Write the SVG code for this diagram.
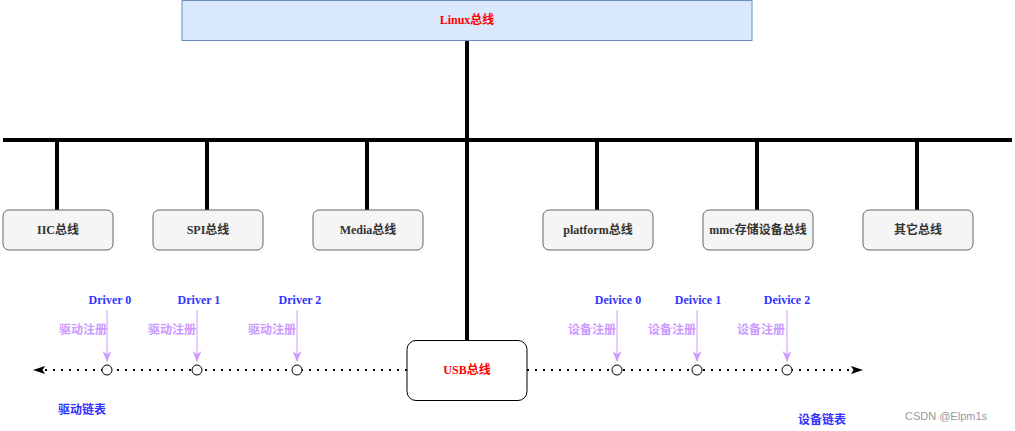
<svg xmlns="http://www.w3.org/2000/svg" width="1015" height="431" viewBox="0 0 1015 431">
<defs>
<style>
.t{font-family:"Liberation Serif","Noto Sans CJK SC",serif;font-size:12px;font-weight:bold;text-anchor:middle;dominant-baseline:central}
.box{fill:#f5f5f5;stroke:#666666;stroke-width:1}
.bus{stroke:#000;stroke-width:4;fill:none}
.dot{stroke:#000;stroke-width:2;stroke-dasharray:2 6;fill:none}
.reg{stroke:#CC99FF;stroke-width:1;fill:none}
.c{fill:#fff;stroke:#000;stroke-width:1}
.blue{fill:#3333FF}
.pur{fill:#CC99FF}
</style>
<marker id="ah" viewBox="0 0 12 10" refX="12" refY="5" markerWidth="12" markerHeight="10" markerUnits="userSpaceOnUse" orient="auto">
<path d="M0,1 L12,5 L0,9 L2.5,5 Z" fill="#000"/>
</marker>
<marker id="ap" viewBox="0 0 10 10" refX="9" refY="5" markerWidth="11" markerHeight="11" markerUnits="userSpaceOnUse" orient="auto">
<path d="M0,1 L10,5 L0,9 L3,5 Z" fill="#CC99FF"/>
</marker>
</defs>
<rect width="1015" height="431" fill="#fff"/>
<g id="connectors">
<line class="bus" x1="467" y1="40" x2="467" y2="340"/>
<line class="bus" x1="3" y1="140" x2="1012" y2="140"/>
<line class="bus" x1="57" y1="140" x2="57" y2="210"/>
<line class="bus" x1="207" y1="140" x2="207" y2="210"/>
<line class="bus" x1="367" y1="140" x2="367" y2="210"/>
<line class="bus" x1="597" y1="140" x2="597" y2="210"/>
<line class="bus" x1="757" y1="140" x2="757" y2="210"/>
<line class="bus" x1="917" y1="140" x2="917" y2="210"/>
<line class="dot" x1="407" y1="370" x2="33" y2="370" marker-end="url(#ah)"/>
<line class="dot" x1="527" y1="370" x2="863" y2="370" marker-end="url(#ah)"/>
<line class="reg" x1="107" y1="310" x2="107" y2="361" marker-end="url(#ap)"/>
<line class="reg" x1="197" y1="310" x2="197" y2="361" marker-end="url(#ap)"/>
<line class="reg" x1="297" y1="310" x2="297" y2="361" marker-end="url(#ap)"/>
<line class="reg" x1="617" y1="310" x2="617" y2="361" marker-end="url(#ap)"/>
<line class="reg" x1="697" y1="310" x2="697" y2="361" marker-end="url(#ap)"/>
<line class="reg" x1="787" y1="310" x2="787" y2="361" marker-end="url(#ap)"/>
</g>
<g id="linux"><rect x="182" y="0.5" width="570" height="40" fill="#dae8fc" stroke="#6c8ebf"/><text class="t" x="467" y="20" fill="#FF0000" font-weight="normal">Linux总线</text></g>
<g id="iic"><rect class="box" x="3" y="210" width="110" height="40" rx="6"/><text class="t" x="58" y="230" fill="#333">IIC总线</text></g>
<g id="spi"><rect class="box" x="153" y="210" width="110" height="40" rx="6"/><text class="t" x="208" y="230" fill="#333">SPI总线</text></g>
<g id="media"><rect class="box" x="313" y="210" width="110" height="40" rx="6"/><text class="t" x="368" y="230" fill="#333">Media总线</text></g>
<g id="platform"><rect class="box" x="543" y="210" width="110" height="40" rx="6"/><text class="t" x="598" y="230" fill="#333">platform总线</text></g>
<g id="mmc"><rect class="box" x="703" y="210" width="110" height="40" rx="6"/><text class="t" x="758" y="230" fill="#333">mmc存储设备总线</text></g>
<g id="other"><rect class="box" x="863" y="210" width="110" height="40" rx="6"/><text class="t" x="918" y="230" fill="#333">其它总线</text></g>
<g id="usb"><rect x="407" y="340.5" width="120" height="60" rx="9" fill="#fff" stroke="#000"/><text class="t" x="467" y="370" fill="#FF0000">USB总线</text></g>
<g id="nodes">
<circle class="c" cx="107" cy="370" r="5"/>
<circle class="c" cx="197" cy="370" r="5"/>
<circle class="c" cx="297" cy="370" r="5"/>
<circle class="c" cx="617" cy="370" r="5"/>
<circle class="c" cx="697" cy="370" r="5"/>
<circle class="c" cx="787" cy="370" r="5"/>
</g>
<g id="labels">
<text class="t blue" x="110" y="300">Driver 0</text>
<text class="t blue" x="199" y="300">Driver 1</text>
<text class="t blue" x="300" y="300">Driver 2</text>
<text class="t pur" x="83" y="330">驱动注册</text>
<text class="t pur" x="172" y="330">驱动注册</text>
<text class="t pur" x="272" y="330">驱动注册</text>
<text class="t blue" x="618" y="300">Deivice 0</text>
<text class="t blue" x="698" y="300">Deivice 1</text>
<text class="t blue" x="787" y="300">Deivice 2</text>
<text class="t pur" x="592" y="330">设备注册</text>
<text class="t pur" x="672" y="330">设备注册</text>
<text class="t pur" x="761" y="330">设备注册</text>
<text class="t blue" x="82" y="410">驱动链表</text>
<text class="t blue" x="822" y="420">设备链表</text>
<text x="946" y="416" font-family="Liberation Sans, sans-serif" font-size="11" fill="#999" text-anchor="middle" dominant-baseline="central">CSDN @Elpm1s</text>
</g>
</svg>
